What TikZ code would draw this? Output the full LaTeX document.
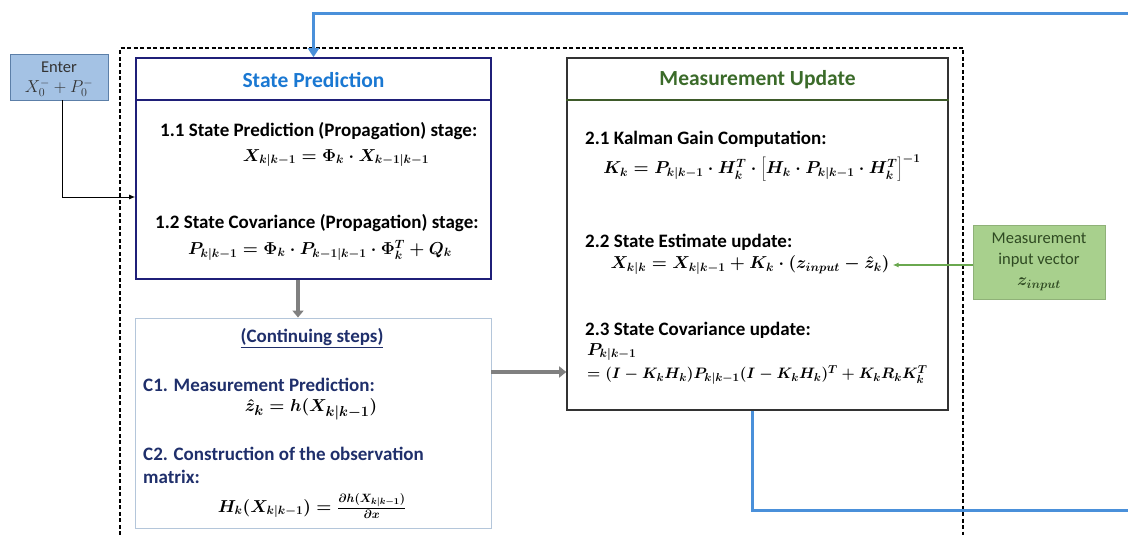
\documentclass[tikz,border=0pt]{standalone}
\usepackage{fontspec}
\usepackage{graphicx}
\setmainfont{Carlito}
\usetikzlibrary{arrows.meta,calc}
\definecolor{spnavy}{HTML}{1F1F78}
\definecolor{sptitle}{HTML}{1A78D2}
\definecolor{mutitle}{HTML}{3B6B2A}
\definecolor{muframe}{HTML}{333333}
\definecolor{muhead}{HTML}{3E5A2A}
\definecolor{contframe}{HTML}{B4C6DA}
\definecolor{contnavy}{HTML}{1F2F6B}
\definecolor{enterfill}{HTML}{A4C2E4}
\definecolor{enterdraw}{HTML}{5C7FA8}
\definecolor{measfill}{HTML}{A8D08D}
\definecolor{meastext}{HTML}{2F4A22}
\definecolor{greenline}{HTML}{6AA84F}
\definecolor{fbblue}{HTML}{4A90DA}
\definecolor{grayarr}{HTML}{808080}
\tikzset{
  lbl/.style={anchor=west, inner sep=0pt, font=\bfseries\fontsize{19}{22}\selectfont},
  eqn/.style={inner sep=0pt, font=\fontsize{18}{21}\selectfont\boldmath},
  ttl/.style={font=\bfseries\fontsize{21.5}{24}\selectfont},
  fb/.style={draw=fbblue, line width=3pt},
  grayarrow/.style={draw=grayarr, line width=4pt, -{Triangle[length=7pt,width=11pt]}},
}
\begin{document}
\begin{tikzpicture}[x=1pt,y=-1pt]
\useasboundingbox (0,0) rectangle (1128,535);
% outer dashed frame
\draw[line width=1.4pt, dash pattern=on 4pt off 2.5pt] (120,535) -- (120,48) -- (963,48) -- (963,535);

% Enter box
\node[draw=enterdraw, fill=enterfill, line width=0.8pt, minimum width=98pt, minimum height=46pt, inner sep=0pt] (enter) at (59,77) {};
\node[inner sep=0pt, font=\fontsize{16.5}{19}\selectfont, text=black!80] (entert) at (59,67) {Enter};
\node[inner sep=0pt, font=\fontsize{17}{20}\selectfont, text=black!80] (enterf) at (59,88) {$X_0^- + P_0^-$};

% State prediction box
\node[draw=spnavy, line width=1.6pt, minimum width=355pt, minimum height=221pt, inner sep=0pt] (sp) at (313.5,168.5) {};
\draw[spnavy, line width=1.6pt] ([yshift=-43pt]sp.north west) -- ([yshift=-43pt]sp.north east);
\node[ttl, text=sptitle] (sptitle) at (313.5,80) {State Prediction};
\node[lbl] (l11) at (160,131) {1.1 State Prediction (Propagation) stage:};
\node[eqn] (e11) at (336,158) {$X_{k|k-1} = \Phi_k \cdot X_{k-1|k-1}$};
\node[lbl] (l12) at (155,223) {1.2 State Covariance (Propagation) stage:};
\node[eqn, font=\fontsize{17.5}{21}\selectfont\boldmath] (e12) at (320,250) {$P_{k|k-1} = \Phi_k \cdot P_{k-1|k-1} \cdot \Phi_k^T + Q_k$};

% Continuing steps box
\node[draw=contframe, line width=0.9pt, minimum width=356pt, minimum height=210pt, inner sep=0pt] (cont) at (313,423) {};
\node[font=\bfseries\fontsize{19}{22}\selectfont, text=contnavy] (ctitle) at (312,338) {\underline{(Continuing steps)}};
\node[lbl, text=contnavy] (c1) at (143,385) {C1. Measurement Prediction:};
\node[eqn, font=\fontsize{19}{22}\selectfont\boldmath] (ec1) at (311,409) {$\hat{z}_k = h(X_{k|k-1})$};
\node[lbl, text=contnavy] (c2) at (143,454) {C2. Construction of the observation};
\node[lbl, text=contnavy] (c2b) at (143,477) {matrix:};
\node[eqn] (ec2) at (312,506) {$H_k(X_{k|k-1}) = \frac{\partial h(X_{k|k-1})}{\partial x}$};

% Measurement update box
\node[draw=muframe, line width=1.6pt, minimum width=381pt, minimum height=352pt, inner sep=0pt] (mu) at (757.5,234) {};
\draw[muhead, line width=1.6pt] ([yshift=-43pt]mu.north west) -- ([yshift=-43pt]mu.north east);
\node[ttl, text=mutitle] (mutitle) at (757.5,80) {Measurement Update};
\node[lbl] (l21) at (585,139) {2.1 Kalman Gain Computation:};
\node[eqn] (e21) at (762,168) {$K_k = P_{k|k-1}\cdot H_k^T \cdot \left[H_k \cdot P_{k|k-1}\cdot H_k^T\right]^{-1}$};
\node[lbl] (l22) at (585,242) {2.2 State Estimate update:};
\node[eqn] (e22) at (750,265) {$X_{k|k} = X_{k|k-1} + K_k \cdot (z_{input} - \hat{z}_k)$};
\node[lbl] (l23) at (585,330) {2.3 State Covariance update:};
\node[eqn, anchor=west] (e23a) at (587,352) {$P_{k|k-1}$};
\node[eqn, anchor=west, font=\fontsize{15}{18}\selectfont\boldmath] (e23b) at (587,375) {\scalebox{1.05}{$= (I - K_kH_k)P_{k|k-1}(I-K_kH_k)^T + K_kR_kK_k^T$}};

% Measurement input box
\node[fill=measfill, draw=measfill!85!black, line width=0.4pt, minimum width=132pt, minimum height=74pt, inner sep=0pt,
      align=center, font=\fontsize{16.5}{21}\selectfont, text=meastext] (meas) at (1039,262)
      {Measurement\\input vector\\{\boldmath$z_{input}$}};

% connectors
\coordinate (topy) at (0,14);
\coordinate (boty) at (0,510);
\draw[line width=1pt, -{Latex[length=6pt,width=5pt]}] ([xshift=3pt]enter.south) |- ([yshift=-28.5pt]sp.west);
\draw[fb, -{Triangle[length=9pt,width=11pt]}] ([xshift=-5.5pt]mu.south) -- ([xshift=-5.5pt]mu.south |- boty) -- (1135,510) -- (1135,14) -- (sp.north |- topy) -- (sp.north);
\draw[grayarrow] ([xshift=-15.5pt]sp.south) -- ([xshift=-15pt]cont.north);
\coordinate (ga) at ([yshift=51pt]cont.east);
\draw[grayarrow] (ga) -- (ga -| mu.west);
\draw[greenline, line width=1.6pt, -{Latex[length=6pt,width=5pt]}] (meas.west |- e22.east) -- ([xshift=3pt]e22.east);
\end{tikzpicture}
\end{document}
